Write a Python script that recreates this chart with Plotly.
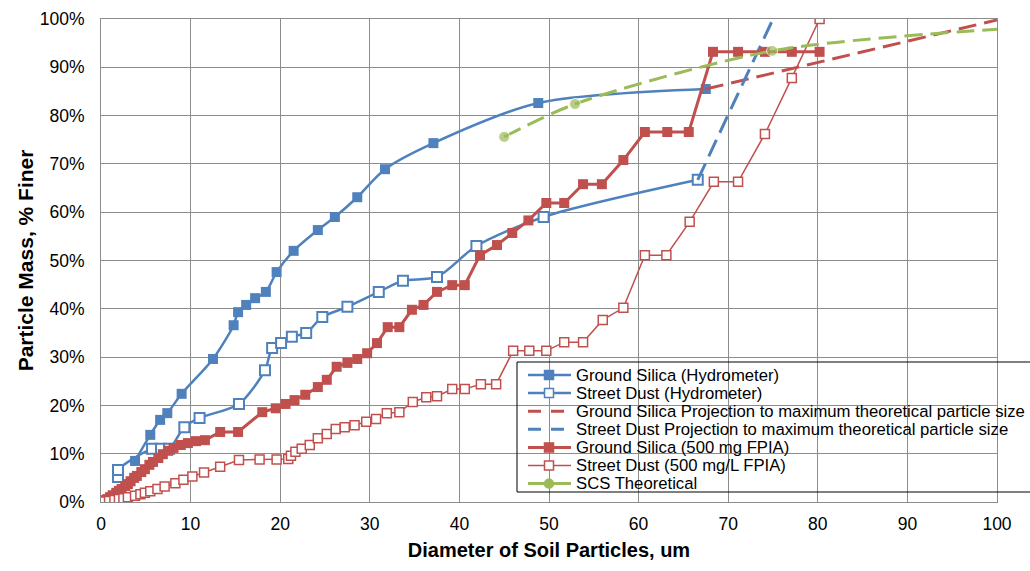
import plotly.graph_objects as go

BLUE = "#4F81BD"
RED = "#C0504D"
GREEN = "#9BBB59"
FONT = "Liberation Sans, Arial"

# Ground Silica (Hydrometer)
gs_hyd_x = [3.8, 5.5, 6.6, 7.4, 9.0, 12.5, 14.8, 15.3, 16.2, 17.2, 18.4, 19.6, 21.5, 24.2, 26.1, 28.6, 31.7, 37.1, 48.8, 67.5]
gs_hyd_y = [8.5, 13.9, 17.0, 18.4, 22.4, 29.6, 36.6, 39.3, 40.8, 42.2, 43.5, 47.6, 52.0, 56.3, 59.0, 63.1, 68.9, 74.3, 82.6, 85.5]

# Street Dust (Hydrometer)
sd_hyd_x = [1.9, 1.9, 5.7, 6.7, 7.6, 9.3, 11.0, 15.4, 18.3, 19.1, 20.1, 21.3, 22.9, 24.7, 27.5, 31.0, 33.7, 37.5, 41.9, 49.4, 66.6]
sd_hyd_y = [5.2, 6.6, 11.0, 11.0, 11.0, 15.5, 17.4, 20.3, 27.3, 31.9, 32.9, 34.2, 35.0, 38.3, 40.4, 43.5, 45.8, 46.6, 53.0, 59.0, 66.7]

# Projections
gs_proj_x = [67.5, 100.0]
gs_proj_y = [85.5, 99.8]
sd_proj_x = [66.6, 75.0]
sd_proj_y = [66.7, 100.0]

# Ground Silica (500 mg FPIA)
gs_fpia_x = [0.0, 0.3, 0.7, 1.0, 1.3, 1.7, 2.0, 2.3, 2.7, 3.0, 3.3, 3.7, 4.0, 4.5, 4.9, 5.4, 5.8, 6.4, 6.9, 7.5,
             8.1, 8.9, 9.7, 10.6, 11.6, 13.3, 15.3, 18.0, 19.5, 20.6, 21.6, 22.8, 24.2, 25.2, 26.3, 27.5, 28.6, 29.7,
             30.8, 32.0, 33.3, 34.7, 36.0, 37.5, 39.2, 40.6, 42.3, 44.2, 45.9, 47.7, 49.7, 51.7, 53.8, 55.9, 58.3,
             60.7, 63.2, 65.6, 68.3, 71.1, 74.1, 77.1, 80.2]
gs_fpia_y = [0.2, 0.4, 0.6, 1.0, 1.4, 1.9, 2.3, 2.7, 3.3, 3.7, 4.3, 5.0, 5.4, 6.2, 6.8, 7.7, 8.3, 9.1, 9.9, 10.6,
             11.2, 11.8, 12.2, 12.6, 12.8, 14.5, 14.5, 18.6, 19.4, 20.3, 21.1, 22.2, 23.8, 25.3, 28.0, 28.8, 29.6, 30.8,
             32.9, 36.2, 36.2, 39.8, 40.8, 43.5, 44.9, 44.9, 51.1, 53.2, 55.7, 58.3, 61.9, 61.9, 65.8, 65.8, 70.8,
             76.6, 76.6, 76.6, 93.2, 93.2, 93.2, 93.2, 93.2]

# Street Dust (500 mg/L FPIA)
sd_fpia_x = [0.3, 0.9, 1.5, 2.0, 2.5, 3.0, 3.8, 4.4, 4.9, 5.5, 6.3, 7.1, 8.3, 9.2, 10.2, 11.5, 13.3, 15.4, 17.7, 19.6,
             20.9, 21.2, 21.7, 22.4, 23.3, 24.2, 25.2, 26.2, 27.2, 28.3, 29.6, 30.7, 31.9, 33.3, 34.8, 36.3, 37.5, 39.2,
             40.6, 42.4, 44.1, 46.0, 47.8, 49.7, 51.7, 53.8, 56.0, 58.3, 60.7, 63.1, 65.7, 68.4, 71.1, 74.1, 77.1, 80.2]
sd_fpia_y = [0.1, 0.2, 0.4, 0.6, 0.8, 1.0, 1.3, 1.6, 1.9, 2.2, 2.7, 3.2, 3.9, 4.6, 5.3, 6.1, 7.3, 8.7, 8.8, 8.8,
             8.9, 9.6, 10.4, 11.0, 11.8, 13.2, 14.1, 15.1, 15.5, 15.9, 16.6, 17.2, 18.4, 18.6, 20.7, 21.7, 21.9, 23.4,
             23.4, 24.4, 24.4, 31.3, 31.3, 31.3, 33.1, 33.1, 37.7, 40.2, 51.1, 51.1, 58.0, 66.3, 66.3, 76.2, 87.8, 100.0]

# SCS Theoretical
scs_x = [45.0, 52.9, 74.9, 100.0]
scs_y = [75.6, 82.4, 93.4, 97.9]
scs_marker = [11, 11, 11, 0]

x_ticks = [0, 10, 20, 30, 40, 50, 60, 70, 80, 90, 100]
y_ticks = [0, 10, 20, 30, 40, 50, 60, 70, 80, 90, 100]

series_names = [
    "Ground Silica (Hydrometer)",
    "Street Dust (Hydrometer)",
    "Ground Silica Projection to maximum theoretical particle size",
    "Street Dust Projection to maximum theoretical particle size",
    "Ground Silica (500 mg FPIA)",
    "Street Dust (500 mg/L FPIA)",
    "SCS Theoretical",
]

DASH = "18px,8px"

fig = go.Figure()

fig.add_trace(go.Scatter(x=gs_hyd_x, y=gs_hyd_y, name=series_names[0], mode="lines+markers",
                         line=dict(color=BLUE, width=2.5, shape="spline", smoothing=0.8),
                         marker=dict(symbol="square", size=10, color=BLUE)))
fig.add_trace(go.Scatter(x=sd_hyd_x, y=sd_hyd_y, name=series_names[1], mode="lines+markers",
                         line=dict(color=BLUE, width=2.5, shape="spline", smoothing=0.8),
                         marker=dict(symbol="square", size=10, color="white", line=dict(color=BLUE, width=2))))
fig.add_trace(go.Scatter(x=gs_proj_x, y=gs_proj_y, name=series_names[2],
                         mode="lines", line=dict(color=RED, width=3, dash=DASH)))
fig.add_trace(go.Scatter(x=sd_proj_x, y=sd_proj_y, name=series_names[3],
                         mode="lines", line=dict(color=BLUE, width=3, dash=DASH)))
fig.add_trace(go.Scatter(x=gs_fpia_x, y=gs_fpia_y, name=series_names[4], mode="lines+markers",
                         line=dict(color=RED, width=3),
                         marker=dict(symbol="square", size=10, color=RED)))
fig.add_trace(go.Scatter(x=sd_fpia_x, y=sd_fpia_y, name=series_names[5], mode="lines+markers",
                         line=dict(color=RED, width=1.5),
                         marker=dict(symbol="square", size=9, color="white", line=dict(color=RED, width=1.5))))
fig.add_trace(go.Scatter(x=scs_x, y=scs_y, name=series_names[6], mode="lines+markers",
                         line=dict(color=GREEN, width=3, dash=DASH, shape="spline", smoothing=0.8),
                         marker=dict(symbol="circle", size=scs_marker, color=GREEN)))

axis_common = dict(showgrid=True, gridcolor="#8c8c8c", gridwidth=1, showline=True, linecolor="#8c8c8c",
                   linewidth=1, zeroline=False, ticks="", mirror=True,
                   tickfont=dict(family=FONT, size=17.5, color="#000000"))

fig.update_xaxes(range=[0, 100], tickvals=x_ticks, ticklabelstandoff=6, **axis_common,
                 title=dict(text="<b>Diameter of Soil Particles, um</b>", standoff=9,
                            font=dict(family=FONT, size=20, color="#000000")))
fig.update_yaxes(range=[0, 100], tickvals=y_ticks, ticktext=[f"{v}%" for v in y_ticks],
                 ticklabelstandoff=12, **axis_common,
                 title=dict(text="<b>Particle Mass, % Finer</b>", standoff=0,
                            font=dict(family=FONT, size=21, color="#000000")))

# ---- manual legend (Excel-like, compact rows) ----
L, T, PW, PH = 101, 19, 896, 483


def px(xp):
    return (xp - L) / PW


def py(yp):
    return (T + PH - yp) / PH


shapes = [dict(type="rect", xref="paper", yref="paper", x0=px(517), x1=px(1034), y0=py(362), y1=py(492),
               line=dict(color="#000000", width=1), fillcolor="rgba(0,0,0,0)", layer="above")]
annotations = []
legend_styles = [
    (BLUE, 2.5, "solid", "square", BLUE),
    (BLUE, 2.5, "solid", "square", "white"),
    (RED, 3, "13px,10px", None, None),
    (BLUE, 3, "13px,10px", None, None),
    (RED, 3, "solid", "square", RED),
    (RED, 1.5, "solid", "square", "white"),
    (GREEN, 3, "solid", "circle", GREEN),
]
for i, (name, (col, w, dash, sym, fill)) in enumerate(zip(series_names, legend_styles)):
    yc = 375 + 18.1 * i
    shapes.append(dict(type="line", xref="paper", yref="paper", x0=px(528), x1=px(571), y0=py(yc), y1=py(yc),
                       line=dict(color=col, width=w, dash=dash), layer="above"))
    if sym is not None:
        s = 4.5
        shapes.append(dict(type="rect" if sym == "square" else "circle", xref="paper", yref="paper",
                           x0=px(549 - s), x1=px(549 + s), y0=py(yc - s), y1=py(yc + s),
                           fillcolor=fill, line=dict(color=col, width=1.5), layer="above"))
    annotations.append(dict(text=name, xref="paper", yref="paper", x=px(574), y=py(yc), xanchor="left",
                            yanchor="middle", showarrow=False, font=dict(family=FONT, size=16.7, color="#000000")))

fig.update_layout(
    width=1030, height=571,
    margin=dict(l=L, r=1030 - L - PW, t=T, b=571 - T - PH, autoexpand=False),
    paper_bgcolor="white", plot_bgcolor="white",
    showlegend=False,
    shapes=shapes,
    annotations=annotations,
)

fig.write_html("out.html", config={"displayModeBar": False},
               post_script="document.body.style.margin='0px';")
